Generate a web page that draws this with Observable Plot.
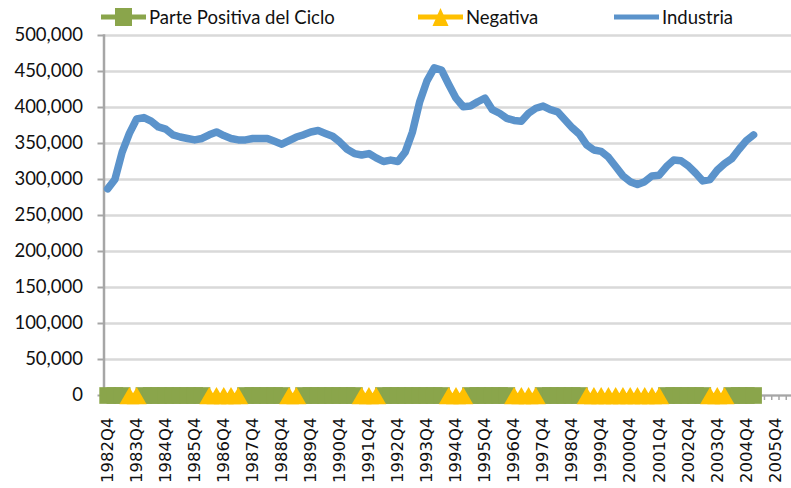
<!DOCTYPE html>
<html><head><meta charset="utf-8">
<script src="https://cdn.jsdelivr.net/npm/d3@7"></script>
<script src="https://cdn.jsdelivr.net/npm/@observablehq/plot@0.6"></script>
<style>
body{margin:0;background:#fff;}
#wrap{position:relative;width:791px;height:488px;overflow:hidden;background:#fff;}
#legend{position:absolute;top:0;left:0;width:791px;height:34px;font-family:Lato,"Open Sans",sans-serif;font-size:18.5px;color:#111;}
.item{position:absolute;top:5px;height:24px;display:flex;align-items:center;white-space:nowrap;}
.item svg{display:block;}
</style></head><body>
<div id="wrap"><div id="chart"></div><div id="legend"></div></div>
<script>
// Category axis (quarters)
const quarters = [
  "1982Q4",
  "1983Q1","1983Q2","1983Q3","1983Q4","1984Q1","1984Q2","1984Q3","1984Q4",
  "1985Q1","1985Q2","1985Q3","1985Q4","1986Q1","1986Q2","1986Q3","1986Q4",
  "1987Q1","1987Q2","1987Q3","1987Q4","1988Q1","1988Q2","1988Q3","1988Q4",
  "1989Q1","1989Q2","1989Q3","1989Q4","1990Q1","1990Q2","1990Q3","1990Q4",
  "1991Q1","1991Q2","1991Q3","1991Q4","1992Q1","1992Q2","1992Q3","1992Q4",
  "1993Q1","1993Q2","1993Q3","1993Q4","1994Q1","1994Q2","1994Q3","1994Q4",
  "1995Q1","1995Q2","1995Q3","1995Q4","1996Q1","1996Q2","1996Q3","1996Q4",
  "1997Q1","1997Q2","1997Q3","1997Q4","1998Q1","1998Q2","1998Q3","1998Q4",
  "1999Q1","1999Q2","1999Q3","1999Q4","2000Q1","2000Q2","2000Q3","2000Q4",
  "2001Q1","2001Q2","2001Q3","2001Q4","2002Q1","2002Q2","2002Q3","2002Q4",
  "2003Q1","2003Q2","2003Q3","2003Q4","2004Q1","2004Q2","2004Q3","2004Q4",
  "2005Q1","2005Q2","2005Q3","2005Q4","2006Q1","2006Q2"
];
// Tick labels shown on the x axis
const xTickLabels = ["1982Q4","1983Q4","1984Q4","1985Q4","1986Q4","1987Q4","1988Q4","1989Q4",
  "1990Q4","1991Q4","1992Q4","1993Q4","1994Q4","1995Q4","1996Q4","1997Q4","1998Q4","1999Q4",
  "2000Q4","2001Q4","2002Q4","2003Q4","2004Q4","2005Q4"];
// Y ticks
const yTicks = [0,50000,100000,150000,200000,250000,300000,350000,400000,450000,500000];

// Industria series (1982Q4 .. 2005Q1)
const industria = [
  287000,300000,338000,364000,384000,386000,381000,373000,370000,362000,
  359000,357000,355000,357000,362000,366000,361000,357000,355000,355000,
  357000,357000,357000,353000,349000,354000,359000,362000,366000,368000,
  364000,360000,352000,342000,336000,334000,336000,330000,325000,327000,
  325000,338000,366000,408000,437000,455000,452000,432000,413000,401000,
  402000,408000,413000,397000,392000,385000,382000,381000,392000,399000,
  402000,397000,394000,383000,372000,363000,348000,341000,339000,331000,
  318000,305000,297000,293000,297000,305000,306000,318000,327000,326000,
  319000,309000,298000,300000,313000,322000,329000,342000,354000,362000
];
// Cycle phases as runs: [phase, number of quarters]
const cicloFase = ["P","N","P","N","P","N","P","N","P","N","P","N","P","N","P","N","P"];
const cicloLargo = [3,2,9,5,6,2,8,3,9,3,6,4,6,11,6,3,4];

const GREEN = "#8aa54b", YELLOW = "#ffc000", BLUE = "#5b93cb", AXIS = "#a6a6a6", GRID = "#d9d9d9";

// build table
const phases = [];
cicloFase.forEach((f, k) => { for (let j = 0; j < cicloLargo[k]; j++) phases.push(f); });
const rows = industria.map((v, i) => ({
  q: quarters[i],
  ind: v,
  pos: phases[i] === "P" ? 0 : null,
  neg: phases[i] === "N" ? 0 : null
}));

const chart = Plot.plot({
  width: 791,
  height: 488,
  marginLeft: 103.5,
  marginRight: -2,
  marginTop: 35,
  marginBottom: 93,
  style: {background: "#fff", overflow: "visible"},
  x: {type: "band", domain: quarters, padding: 0, round: false, label: null},
  y: {domain: [0, 500000], label: null},
  marks: [
    Plot.gridY(yTicks, {stroke: GRID, strokeOpacity: 1, strokeWidth: 2.5}),
    Plot.ruleY([0], {stroke: AXIS, strokeWidth: 2}),
    Plot.axisX({tickSize: 5, tickFormat: () => "", stroke: AXIS, strokeWidth: 1.5, dx: 3.63, label: null}),
    Plot.axisX({ticks: xTickLabels, tickSize: 0, tickPadding: 22, tickRotate: -90, fontSize: 16.5,
      fontFamily: "DejaVu Sans", fill: "#111", label: null}),
    Plot.frame({anchor: "left", stroke: AXIS, strokeWidth: 2.5}),
    Plot.axisY({ticks: yTicks, tickFormat: d3.format(","), tickSize: 6, tickPadding: 15, stroke: AXIS,
      strokeWidth: 2, fontSize: 18.5, fontFamily: "Lato", fill: "#111", label: null}),
    Plot.line(rows, {x: "q", y: "pos", stroke: GREEN, strokeWidth: 5}),
    Plot.dot(rows, {x: "q", y: "pos", symbol: "square", r: 9.4, fill: GREEN, stroke: null}),
    Plot.line(rows, {x: "q", y: "neg", stroke: YELLOW, strokeWidth: 5}),
    Plot.dot(rows, {x: "q", y: "neg", symbol: "triangle", r: 7.4, fill: YELLOW, stroke: null, dy: 2.9}),
    Plot.line(rows, {x: "q", y: "ind", stroke: BLUE, strokeWidth: 7.5, strokeLinejoin: "round", strokeLinecap: "round"})
  ]
});
document.getElementById("chart").appendChild(chart);

// Legend
const legendItems = [
  {label: "Parte Positiva del Ciclo", color: GREEN, marker: "square", x: 101},
  {label: "Negativa", color: YELLOW, marker: "triangle", x: 418},
  {label: "Industria", color: BLUE, marker: null, x: 614}
];
const legend = document.getElementById("legend");
legendItems.forEach(it => {
  const div = document.createElement("div");
  div.className = "item";
  div.style.left = it.x + "px";
  let m = "";
  if (it.marker === "square") m = `<rect x="14" y="3" width="17" height="18" fill="${it.color}"/>`;
  if (it.marker === "triangle") m = `<polygon points="22.5,3 30.5,21 14.5,21" fill="${it.color}"/>`;
  const w = 45;
  div.innerHTML = `<svg width="${w}" height="24"><line x1="0" x2="${w}" y1="12" y2="12" stroke="${it.color}" stroke-width="5"/>${m}</svg><span style="margin-left:3px">${it.label}</span>`;
  legend.appendChild(div);
});
</script>
</body></html>
